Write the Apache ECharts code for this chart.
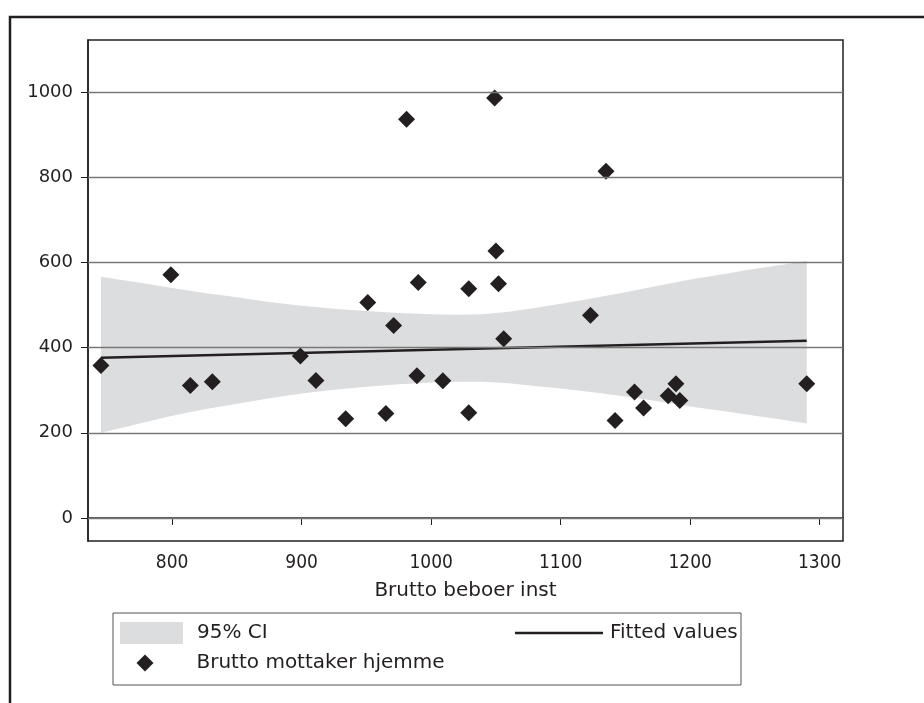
<!DOCTYPE html>
<html>
<head>
<meta charset="utf-8">
<script src="https://cdn.jsdelivr.net/npm/echarts@6/dist/echarts.min.js"></script>
<style>
  html, body { margin: 0; padding: 0; background: #fff; }
  #chart { width: 924px; height: 703px; }
</style>
</head>
<body>
<div id="chart"></div>
<script>
// scatter: Brutto beboer inst (x) vs Brutto mottaker hjemme (y)
const pointX = [745, 799, 814, 831, 899, 911, 934, 951, 965, 971, 981, 989, 990, 1009, 1029,
  1029, 1049, 1050, 1052, 1056, 1123, 1135, 1142, 1157, 1164, 1183, 1189, 1192, 1290];
const pointY = [358, 571, 311, 320, 380, 323, 233, 506, 245, 452, 936, 334, 553, 322, 538,
  247, 986, 627, 550, 421, 476, 814, 229, 296, 258, 287, 315, 276, 315];

// fitted line end points
const fitX = [745, 1290];
const fitY = [376, 416];

// 95% CI band
const bandX = [745, 775, 800, 825, 850, 875, 900, 925, 950, 975, 1000, 1020, 1040, 1060, 1080,
  1100, 1125, 1150, 1175, 1200, 1225, 1250, 1270, 1290];
const bandUpper = [566, 552, 540, 528, 518, 507, 498, 491, 486, 481, 478, 477, 478, 484, 493,
  503, 516, 530, 545, 560, 572, 585, 594, 603];
const bandLower = [200, 222, 240, 255, 268, 281, 292, 301, 308, 314, 318, 320, 320, 316, 310,
  304, 295, 285, 274, 262, 251, 240, 231, 222];

const xTicks = [800, 900, 1000, 1100, 1200, 1300];
const yTicks = [0, 200, 400, 600, 800, 1000];

const ink = "#231f20";
const font = "DejaVu Sans";
const narrow = "DejaVu Sans Condensed";

const chart = echarts.init(document.getElementById("chart"));

chart.setOption({
  animation: false,
  textStyle: { fontFamily: font, color: ink },
  grid: {
    left: 88,
    top: 40,
    right: 81,
    bottom: 162,
    show: true,
    borderColor: ink,
    borderWidth: 1.5,
    backgroundColor: "#fff",
  },
  xAxis: {
    type: "value",
    min: 735,
    max: 1318,
    name: "Brutto beboer inst",
    nameLocation: "middle",
    nameGap: 40,
    nameTextStyle: { fontSize: 20, color: ink, fontFamily: font },
    axisLine: { show: true, lineStyle: { color: ink, width: 1.5 } },
    axisTick: { show: true, length: 7, customValues: xTicks, lineStyle: { color: ink } },
    axisLabel: {
      customValues: xTicks,
      fontSize: 19,
      fontFamily: narrow,
      color: ink,
      margin: 13,
      formatter: (v) => String(v),
    },
    splitLine: { show: false },
  },
  yAxis: {
    type: "value",
    min: -54,
    max: 1122,
    axisLine: { show: true, lineStyle: { color: ink, width: 1.5 } },
    axisTick: { show: true, length: 7, customValues: yTicks, lineStyle: { color: ink } },
    axisLabel: {
      customValues: yTicks,
      fontSize: 18,
      color: ink,
      margin: 15,
      formatter: (v) => String(v),
    },
    splitLine: { show: false },
  },
  legend: [
    {
      data: [{ name: "95% CI", icon: "rect" }],
      left: 120,
      top: 622,
      padding: 0,
      itemWidth: 63,
      itemHeight: 22,
      textStyle: { fontSize: 20, color: ink, padding: [0, 0, 0, 9] },
      selectedMode: false,
    },
    {
      data: [{ name: "Fitted values", icon: "rect" }],
      left: 515,
      top: 623,
      padding: 0,
      itemWidth: 88,
      itemHeight: 2.5,
      textStyle: { fontSize: 20, color: ink, padding: [0, 0, 0, 2] },
      selectedMode: false,
    },
    {
      data: [{ name: "Brutto mottaker hjemme", icon: "diamond" }],
      left: 136.5,
      top: 653,
      padding: 0,
      itemWidth: 17,
      itemHeight: 17,
      textStyle: { fontSize: 20, color: ink, padding: [0, 0, 0, 38] },
      selectedMode: false,
    },
  ],
  graphic: [
    {
      // outer frame, runs off the right and bottom of the page
      type: "rect",
      shape: { x: 10, y: 17, width: 1000, height: 800 },
      style: { fill: "none", stroke: ink, lineWidth: 2.5 },
      silent: true,
      z: 100,
    },
    {
      // legend box
      type: "rect",
      shape: { x: 113, y: 613, width: 628, height: 72 },
      style: { fill: "none", stroke: "#555", lineWidth: 1 },
      silent: true,
      z: 100,
    },
  ],
  series: [
    {
      name: "95% CI",
      type: "custom",
      z: 1,
      itemStyle: { color: "#dcdddf" },
      data: [[bandX[0], bandLower[0]]],
      renderItem: function (params, api) {
        const pts = [];
        for (let i = 0; i < bandX.length; i++) pts.push(api.coord([bandX[i], bandUpper[i]]));
        for (let i = bandX.length - 1; i >= 0; i--) pts.push(api.coord([bandX[i], bandLower[i]]));
        return {
          type: "polygon",
          shape: { points: pts },
          style: { fill: "#dcdddf" },
        };
      },
    },
    {
      // horizontal grid lines
      type: "line",
      z: 2,
      data: [],
      markLine: {
        silent: true,
        symbol: "none",
        label: { show: false },
        lineStyle: { color: "#777", width: 1.3, type: "solid" },
        data: yTicks.map((v) => ({ yAxis: v })),
      },
    },
    {
      name: "Fitted values",
      type: "line",
      z: 3,
      showSymbol: false,
      symbol: "none",
      lineStyle: { color: ink, width: 2.5 },
      itemStyle: { color: ink },
      data: fitX.map((x, i) => [x, fitY[i]]),
    },
    {
      name: "Brutto mottaker hjemme",
      type: "scatter",
      z: 4,
      symbol: "diamond",
      symbolSize: 17,
      itemStyle: { color: ink, opacity: 1 },
      data: pointX.map((x, i) => [x, pointY[i]]),
    },
  ],
});
</script>
</body>
</html>
